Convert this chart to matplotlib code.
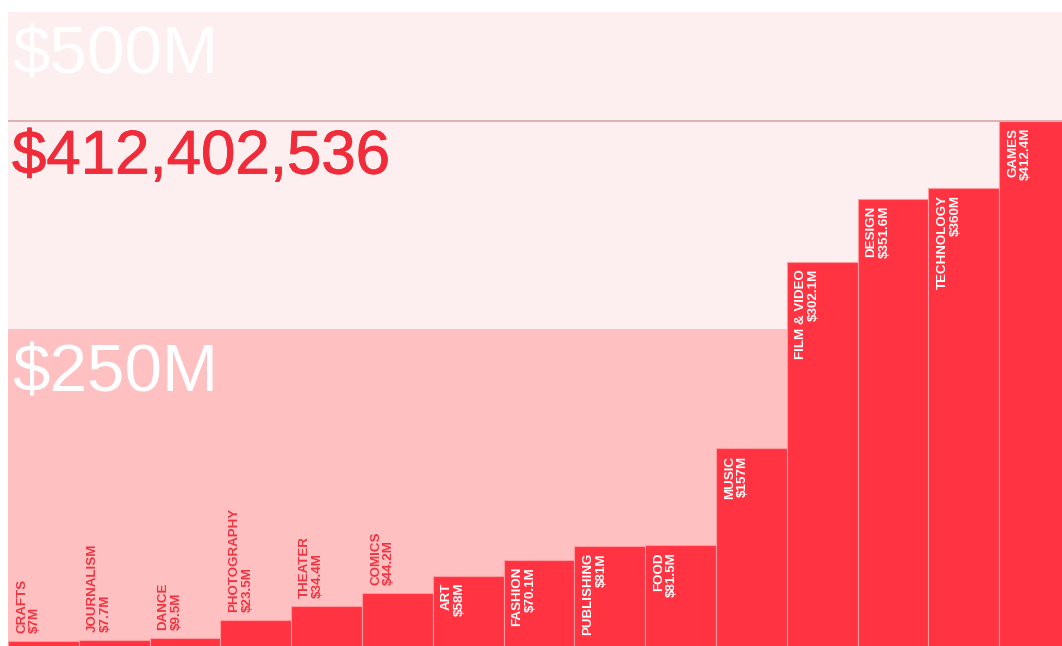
import matplotlib.pyplot as plt
import matplotlib.patheffects as pe
import numpy as np

# Kickstarter dollars pledged by category (millions)
categories = ["CRAFTS", "JOURNALISM", "DANCE", "PHOTOGRAPHY", "THEATER", "COMICS",
              "ART", "FASHION", "PUBLISHING", "FOOD", "MUSIC", "FILM & VIDEO",
              "DESIGN", "TECHNOLOGY", "GAMES"]
pledged = [7, 7.7, 9.5, 23.5, 34.4, 44.2, 58, 70.1, 81, 81.5,
           157, 302.1, 351.6, 360, 412.4]
value_labels = ["$7M", "$7.7M", "$9.5M", "$23.5M", "$34.4M", "$44.2M", "$58M",
                "$70.1M", "$81M", "$81.5M", "$157M", "$302.1M", "$351.6M",
                "$360M", "$412.4M"]
top_total = 412.402536
top_total_label = "$412,402,536"
band_marks = [250, 500]
band_labels = ["$250M", "$500M"]

RED = "#ff3341"
LOW_BAND = "#ffc0c2"
HIGH_BAND = "#fdeff0"
RULE = "#d6a6a9"
FONT = "Liberation Sans"

fig = plt.figure(figsize=(10.62, 6.46), dpi=100)
ax = fig.add_axes([8 / 1062, -4 / 646, 1054 / 1062, 638 / 646])
ax.set_xlim(0, 1054 / 70.8)
ax.set_ylim(0, 497)
ax.axis("off")

ax.axhspan(0, band_marks[0], color=LOW_BAND, zorder=0, lw=0)
ax.axhspan(band_marks[0], band_marks[1], color=HIGH_BAND, zorder=0, lw=0)
ax.axhline(top_total, color=RULE, lw=1.2, zorder=1)

x = np.arange(len(categories))
ax.bar(x, pledged, width=1, align="edge", color=RED,
       edgecolor="#ff9aa0", linewidth=0.8, zorder=2)

# small bars get their label above the bar, the rest inside at the top
for i, (name, val, lab) in enumerate(zip(categories, pledged, value_labels)):
    inside = val > 50
    ax.annotate(f"{name}\n{lab}", xy=(i, val),
                xytext=(8, -7 if inside else 8), textcoords="offset pixels",
                rotation=90, ha="left", va="top" if inside else "bottom",
                multialignment="right" if inside else "left",
                color="white" if inside else "#ee3440",
                fontsize=9.6, fontweight="bold", family=FONT,
                linespacing=1.12, zorder=3)

# big scale labels
ax.annotate(band_labels[1], xy=(0, 1), xycoords="axes fraction",
            xytext=(4, -13), textcoords="offset pixels", ha="left", va="top",
            fontsize=48.5, color="white", family=FONT, zorder=3)
ax.annotate(band_labels[0], xy=(0, band_marks[0]), xytext=(4, -14),
            textcoords="offset pixels", ha="left", va="top",
            fontsize=48.5, color="white", family=FONT, zorder=3)
ax.annotate(top_total_label, xy=(0, top_total), xytext=(4, -9),
            textcoords="offset pixels", ha="left", va="top",
            fontsize=44.5, color="#f02c3b", family=FONT, zorder=3,
            path_effects=[pe.withStroke(linewidth=0.6, foreground="#f02c3b")])

fig.savefig("out.png", dpi=100)
